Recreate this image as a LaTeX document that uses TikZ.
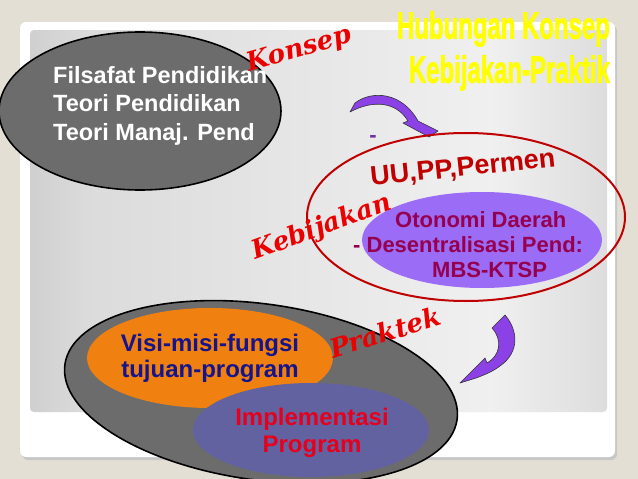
\documentclass[tikz,border=0pt]{standalone}
\usepackage{fontspec}
\setmainfont{Liberation Sans}
\newfontfamily\handfont{DejaVu Serif}
\newfontfamily\titlefont[BoldFeatures={FakeBold=2.2}]{Liberation Sans}
\usetikzlibrary{shapes.geometric}

\definecolor{bgbeige}{RGB}{228,223,213}
\definecolor{ellgray}{RGB}{108,108,108}
\definecolor{kebred}{RGB}{192,0,0}
\definecolor{otopurple}{RGB}{155,108,245}
\definecolor{ototext}{RGB}{150,0,80}
\definecolor{arrowpurple}{RGB}{140,65,230}
\definecolor{dashpurple}{RGB}{112,48,160}
\definecolor{visiorange}{RGB}{240,128,16}
\definecolor{visinavy}{RGB}{20,20,140}
\definecolor{implslate}{RGB}{98,98,160}
\definecolor{impltext}{RGB}{230,0,30}
\definecolor{handred}{RGB}{235,0,0}
\definecolor{titleyellow}{RGB}{255,255,0}

\pgfdeclarehorizontalshading{panelshade}{100bp}{color(0bp)=(black!42); color(30bp)=(black!14); color(65bp)=(black!6); color(100bp)=(black!32)}

\begin{document}
\begin{tikzpicture}[x=1pt,y=-1pt,
  blob/.style={ellipse,inner sep=0pt,draw=black,line width=1.6pt,fill=ellgray},
  inblob/.style={ellipse,inner sep=0pt},
  hand/.style={font=\handfont\bfseries\itshape\fontsize{26}{26}\selectfont,text=handred,inner sep=0pt},
  bodytext/.style={font=\bfseries\fontsize{22}{25}\selectfont,align=center,inner sep=0pt},
  bendarrow/.style={fill=arrowpurple,draw=black!80,line width=0.6pt,line join=round}]
  \useasboundingbox (0,0) rectangle (638,479);
  %background and slide panel
  \fill[bgbeige] (0,0) rectangle (638,479);
  \fill[black!22,rounded corners=6pt] (22,25) rectangle (617,460);
  \fill[white,rounded corners=6pt] (20,22) rectangle (615,457);
  \shade[shading=panelshade,rounded corners=4pt] (30,30) rectangle (607,412);

  %konsep
  \node[blob,minimum width=282pt,minimum height=158pt] (konsep) at (140,111) {};
  \node[anchor=north west,text=white,font=\bfseries\fontsize{23.5}{28.5}\selectfont,align=left,inner sep=0pt] (filsafat) at (53,66) {Filsafat Pendidikan\\Teori Pendidikan\\Teori Manaj. Pend};

  %arrow konsep -> kebijakan
  \filldraw[bendarrow] (355,103) .. controls (372,90) and (402,92) .. (418,121) -- (438,131) -- (429,137) -- (403,123) -- (408,121) .. controls (396,101) and (372,100) .. (350,112) -- cycle;
  \node[text=dashpurple,font=\bfseries\fontsize{22}{22}\selectfont,inner sep=0pt] (dash) at (373,139) {-};

  %kebijakan
  \node[inblob,fill=otopurple,minimum width=240pt,minimum height=96pt] (otonomi) at (482,240) {};
  \node[ellipse,draw=kebred,line width=2pt,minimum width=318pt,minimum height=168pt] (kebijakan) at (466,217) {};
  \node[font=\bfseries\fontsize{27}{27}\selectfont,text=kebred,rotate=6,inner sep=0pt] (uupp) at (463,169) {UU,PP,Permen};
  \node[bodytext,text=ototext,align=left,anchor=north west] (otonomitext) at (353,211) {\hspace*{42pt}Otonomi Daerah\\- Desentralisasi Pend:\\\hspace*{79pt}MBS-KTSP};

  %praktek
  \node[blob,rotate=-8,minimum width=396pt,minimum height=176pt] (praktek) at (261,392) {};
  \node[inblob,fill=visiorange,minimum width=246pt,minimum height=100pt] (visi) at (210,358) {};
  \node[inblob,fill=implslate,minimum width=236pt,minimum height=94pt] (impl) at (311,430) {};
  \node[bodytext,font=\bfseries\fontsize{24}{26}\selectfont,text=visinavy,anchor=north] (visitext) at (210,334) {Visi-misi-fungsi\\tujuan-program};
  \node[bodytext,font=\bfseries\fontsize{24}{27}\selectfont,text=impltext,anchor=north] (impltext) at (312,408) {Implementasi\\Program};

  %arrow kebijakan -> praktek
  \filldraw[bendarrow] (505,315) .. controls (518,330) and (520,352) .. (500,366) .. controls (492,372) and (484,375) .. (476,378) -- (460,383) -- (485,358) -- (487,363) .. controls (500,356) and (503,340) .. (492,328) -- cycle;

  %hand labels
  \node[hand,rotate=16] (konseplbl) at (299,50) {Konsep};
  \node[hand,rotate=20] (kebijakanlbl) at (322,228) {Kebijakan};
  \node[hand,rotate=17] (prakteklbl) at (385,332) {Praktek};

  %title
  \node[font=\titlefont\bfseries\fontsize{38}{44}\selectfont,text=titleyellow,align=right,xscale=0.63,anchor=north east,inner sep=0pt] (title) at (610,11) {Hubungan Konsep\\Kebijakan-Praktik};
\end{tikzpicture}
\end{document}
